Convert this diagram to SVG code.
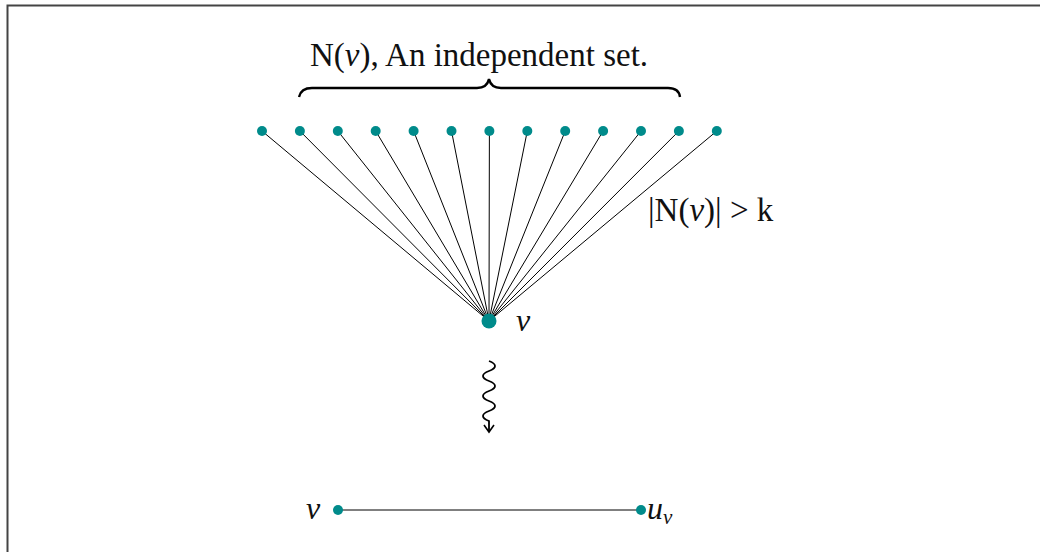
<svg xmlns="http://www.w3.org/2000/svg" width="1040" height="552" viewBox="0 0 1040 552">
<style>
.t{font-family:"Liberation Serif",serif;fill:#111;}
.i{font-style:italic;}
.n{fill:#008b8b;}
.e{stroke:#000;stroke-width:1;fill:none;}
</style>
<rect x="0" y="0" width="1040" height="552" fill="#fff"/>
<path d="M7.5,552 V5.5 H1040" fill="none" stroke="#444" stroke-width="2"/>
<g id="connectors">
<path class="e" d="M489,321 L262,131 M489,321 L299.9,131 M489,321 L337.8,131 M489,321 L375.7,131 M489,321 L413.6,131 M489,321 L451.5,131 M489,321 L489.4,131 M489,321 L527.3,131 M489,321 L565.2,131 M489,321 L603.1,131 M489,321 L641,131 M489,321 L678.9,131 M489,321 L716.8,131"/>
<path class="e" d="M338,510 H641"/>
<path d="M489,361 C497,364 497,368 489,371 C481,374 481,378 489,381 C497,384 497,388 489,391 C481,394 481,398 489,401 C497,404 497,408 489,411 C481,414 481,418 489,421 V432" fill="none" stroke="#000" stroke-width="1.8"/>
<path d="M484,425 L489,432 L494,425" fill="none" stroke="#000" stroke-width="1.6"/>
<path d="M299,97 Q301,88 312,88 H477 Q487,88 489,79 Q491,88 501,88 H668 Q679,88 680,97" fill="none" stroke="#000" stroke-width="2.4"/>
</g>
<g id="nodes-top">
<circle class="n" cx="262" cy="131" r="5"/>
<circle class="n" cx="299.9" cy="131" r="5"/>
<circle class="n" cx="337.8" cy="131" r="5"/>
<circle class="n" cx="375.7" cy="131" r="5"/>
<circle class="n" cx="413.6" cy="131" r="5"/>
<circle class="n" cx="451.5" cy="131" r="5"/>
<circle class="n" cx="489.4" cy="131" r="5"/>
<circle class="n" cx="527.3" cy="131" r="5"/>
<circle class="n" cx="565.2" cy="131" r="5"/>
<circle class="n" cx="603.1" cy="131" r="5"/>
<circle class="n" cx="641" cy="131" r="5"/>
<circle class="n" cx="678.9" cy="131" r="5"/>
<circle class="n" cx="716.8" cy="131" r="5"/>
</g>
<g id="node-v">
<circle class="n" cx="489" cy="321" r="7.5"/>
<text class="t i" x="516" y="331" font-size="32">v</text>
</g>
<g id="node-v2">
<circle class="n" cx="338" cy="510" r="5"/>
<text class="t i" x="306" y="519" font-size="32">v</text>
</g>
<g id="node-u">
<circle class="n" cx="641" cy="510" r="5"/>
<text class="t i" x="647" y="519" font-size="32">u<tspan font-size="21" dy="5">v</tspan></text>
</g>
<text class="t" x="479" y="66" font-size="33" text-anchor="middle">N(<tspan class="i">v</tspan>), An independent set.</text>
<text class="t" x="648" y="221" font-size="33">|N(<tspan class="i">v</tspan>)|  &gt;  k</text>
</svg>
